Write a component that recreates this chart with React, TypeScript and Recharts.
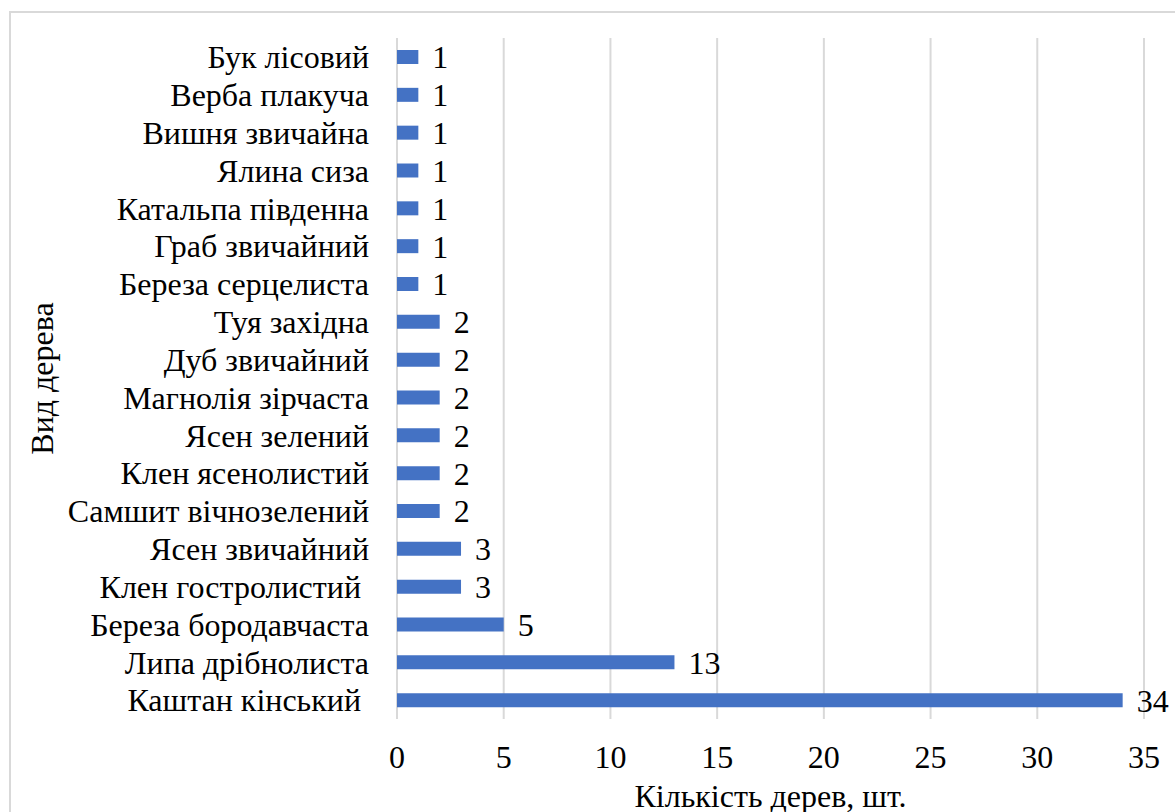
import React from 'react';
import { BarChart, Bar, XAxis, YAxis, CartesianGrid, LabelList, Label } from 'recharts';

const species: string[] = [
  'Бук лісовий',
  'Верба плакуча',
  'Вишня звичайна',
  'Ялина сиза',
  'Катальпа південна',
  'Граб звичайний',
  'Береза серцелиста',
  'Туя західна',
  'Дуб звичайний',
  'Магнолія зірчаста',
  'Ясен зелений',
  'Клен ясенолистий',
  'Самшит вічнозелений',
  'Ясен звичайний',
  'Клен гостролистий\u00A0',
  'Береза бородавчаста',
  'Липа дрібнолиста',
  'Каштан кінський\u00A0',
];

const counts: number[] = [1, 1, 1, 1, 1, 1, 1, 2, 2, 2, 2, 2, 2, 3, 3, 5, 13, 34];

const xTicks: number[] = [0, 5, 10, 15, 20, 25, 30, 35];

const xTitle = 'Кількість дерев, шт.';
const yTitle = 'Вид дерева';

const data = species.map((name, i) => ({ name, value: counts[i] }));

const FONT = '"Liberation Serif", "Times New Roman", serif';
const FS = 32;

const YTitle = (props: any) => {
  const vb = props.viewBox || { x: 0, y: 0, width: 0, height: 0 };
  const x = vb.x + 53;
  const y = vb.y + vb.height / 2;
  return (
    <text
      x={x}
      y={y}
      transform={`rotate(-90, ${x}, ${y})`}
      textAnchor="middle"
      fontSize={FS}
      fontFamily={FONT}
      fill="#000"
    >
      {yTitle}
    </text>
  );
};

const css = `.chart-root text { font-family: "Liberation Serif", "Times New Roman", serif !important; }`;

export default function App() {
  return (
    <div
      className="chart-root"
      style={{
        position: 'fixed',
        left: 0,
        top: 0,
        width: 1175,
        height: 812,
        overflow: 'hidden',
        background: '#fff',
        fontFamily: FONT,
      }}
    >
      <style>{css}</style>
      <div
        style={{
          position: 'absolute',
          left: 9,
          top: 11,
          width: 1250,
          height: 900,
          border: '2px solid #d9d9d9',
          boxSizing: 'border-box',
        }}
      />
      <div style={{ position: 'absolute', left: 0, top: 0 }}>
        <BarChart
          width={1175}
          height={812}
          data={data}
          layout="vertical"
          margin={{ top: 38, right: 31, bottom: 0, left: 0 }}
          barSize={14}
        >
          <CartesianGrid horizontal={false} stroke="#d9d9d9" strokeWidth={2} />
          <XAxis
            type="number"
            domain={[0, 35]}
            ticks={xTicks}
            interval={0}
            axisLine={false}
            tickLine={false}
            tickSize={0}
            tickMargin={26}
            height={93}
            tick={{ fill: '#000', fontSize: FS, fontFamily: FONT }}
          >
            <Label
              value={xTitle}
              position="insideBottom"
              offset={5}
              fill="#000"
              style={{ fontSize: FS, fontFamily: FONT, fill: '#000' }}
            />
          </XAxis>
          <YAxis
            type="category"
            dataKey="name"
            width={397}
            interval={0}
            axisLine={false}
            tickLine={false}
            tickSize={0}
            tickMargin={28}
            tick={{ fill: '#000', fontSize: FS, fontFamily: FONT }}
          >
            <Label content={YTitle} />
          </YAxis>
          <Bar dataKey="value" fill="#4472C4" isAnimationActive={false}>
            <LabelList
              dataKey="value"
              position="right"
              offset={14}
              fill="#000"
              style={{ fontSize: FS, fontFamily: FONT, fill: '#000' }}
            />
          </Bar>
        </BarChart>
      </div>
    </div>
  );
}
